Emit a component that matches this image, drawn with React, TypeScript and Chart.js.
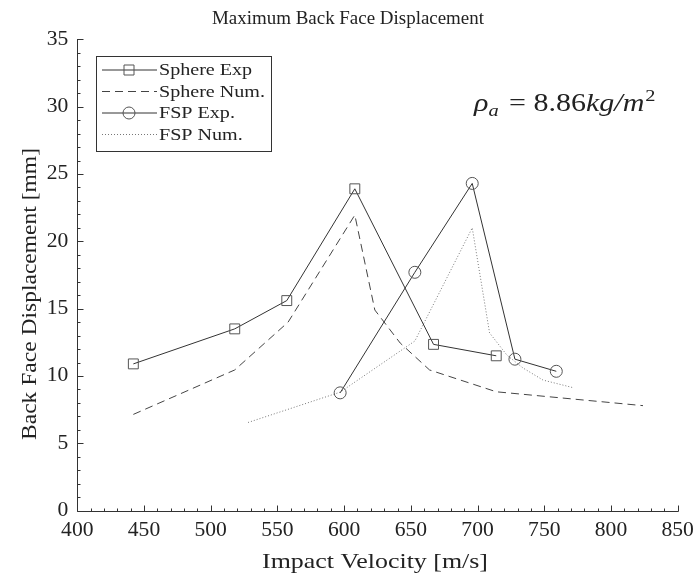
import React, { useEffect, useRef } from 'react';
import { Chart, registerables } from 'chart.js';
Chart.register(...registerables);

// ---- data ----
const sphereExpV = [442, 518, 557, 608, 667, 714];
const sphereExpD = [10.9, 13.5, 15.6, 23.9, 12.35, 11.5];
const sphereNumV = [442, 518, 558, 608, 623, 642, 664, 714, 824];
const sphereNumD = [7.15, 10.45, 14.0, 21.95, 14.9, 12.45, 10.45, 8.83, 7.8];
const fspExpV = [597, 653, 696, 728, 759];
const fspExpD = [8.75, 17.7, 24.3, 11.25, 10.35];
const fspNumV = [528, 597, 653, 696, 709, 722, 734, 749, 771];
const fspNumD = [6.55, 8.8, 12.6, 21.0, 13.2, 11.55, 10.6, 9.7, 9.15];

const seriesNames = ['Sphere Exp', 'Sphere Num.', 'FSP Exp.', 'FSP Num.'];
const xTicks = [400, 450, 500, 550, 600, 650, 700, 750, 800, 850];
const yTicks = [0, 5, 10, 15, 20, 25, 30, 35];
const xMinorStep = 10;
const yMinorStep = 1;

const titleText = 'Maximum Back Face Displacement';
const xTitle = 'Impact Velocity [m/s]';
const yTitle = 'Back Face Displacement [mm]';

const FONT = '"Liberation Serif", "Times New Roman", serif';
const LINE = '#333333';
const MARK = '#555555';

const toXY = (xs: number[], ys: number[]) => xs.map((x, i) => ({ x, y: ys[i] }));

// draw text horizontally stretched by factor sx, anchored at left (x)
function textStretch(c: CanvasRenderingContext2D, t: string, x: number, y: number, sx: number) {
  c.save();
  c.translate(x, y);
  c.scale(sx, 1);
  c.fillText(t, 0, 0);
  c.restore();
  return c.measureText(t).width * sx;
}

export default function App() {
  const ref = useRef<HTMLCanvasElement>(null);

  useEffect(() => {
    const canvas = ref.current!;
    const W = 697, H = 577;
    const plotL = 77.3, plotR = 677.7, plotT = 39.3, plotB = 510.7;

    const deco = {
      id: 'deco',
      afterDraw(chart: any) {
        const c = chart.ctx as CanvasRenderingContext2D;
        const xs = chart.scales.x;
        const ys = chart.scales.y;
        const a = chart.chartArea;
        c.save();
        c.strokeStyle = LINE;
        c.lineWidth = 1;
        c.beginPath();
        const ax = Math.round(a.left) + 0.5;
        const ay = Math.round(a.bottom) + 0.5;
        c.moveTo(ax, Math.round(a.top));
        c.lineTo(ax, ay);
        c.lineTo(Math.round(a.right) + 0.5, ay);
        const xmin = xTicks[0], xmax = xTicks[xTicks.length - 1];
        for (let v = xmin; v <= xmax + 1e-6; v += xMinorStep) {
          const px = Math.round(xs.getPixelForValue(v)) + 0.5;
          const len = xTicks.includes(v) ? 6 : 3;
          c.moveTo(px, ay);
          c.lineTo(px, ay - len);
        }
        const ymin = yTicks[0], ymax = yTicks[yTicks.length - 1];
        for (let v = ymin; v <= ymax + 1e-6; v += yMinorStep) {
          const py = Math.round(ys.getPixelForValue(v)) + 0.5;
          const len = yTicks.includes(v) ? 6 : 3;
          c.moveTo(ax, py);
          c.lineTo(ax + len, py);
        }
        c.stroke();

        // tick labels
        c.fillStyle = '#222';
        c.font = `20px ${FONT}`;
        c.textBaseline = 'top';
        c.textAlign = 'left';
        const tsx = 1.08;
        xTicks.forEach((v) => {
          const w = c.measureText(String(v)).width * tsx;
          textStretch(c, String(v), xs.getPixelForValue(v) - w / 2, a.bottom + 10, tsx);
        });
        c.textBaseline = 'middle';
        yTicks.forEach((v) => {
          const w = c.measureText(String(v)).width * tsx;
          textStretch(c, String(v), a.left - 9 - w, ys.getPixelForValue(v), tsx);
        });

        // title
        c.textBaseline = 'alphabetic';
        c.font = `18px ${FONT}`;
        {
          const target = 272;
          const sx = target / c.measureText(titleText).width;
          textStretch(c, titleText, 348 - target / 2, 24, sx);
        }

        // x title
        c.font = `22px ${FONT}`;
        {
          const target = 226;
          const sx = target / c.measureText(xTitle).width;
          textStretch(c, xTitle, 375 - target / 2, 568, sx);
        }

        // y title
        c.save();
        c.translate(36, 294);
        c.rotate(-Math.PI / 2);
        c.font = `22px ${FONT}`;
        {
          const target = 292;
          const sx = target / c.measureText(yTitle).width;
          textStretch(c, yTitle, -target / 2, 0, sx);
        }
        c.restore();

        // annotation  rho_a = 8.86 kg/m^2
        {
          let x = 474;
          const base = 111;
          const sx = 1.2;
          c.font = `italic 25px ${FONT}`;
          x += textStretch(c, 'ρ', x, base, sx);
          c.font = `italic 17px ${FONT}`;
          x += textStretch(c, 'a', x, base + 5, sx) + 3;
          c.font = `25px ${FONT}`;
          x += textStretch(c, ' = 8.86', x, base, sx);
          c.font = `italic 25px ${FONT}`;
          x += textStretch(c, 'kg/m', x, base, sx) + 1;
          c.font = `17px ${FONT}`;
          textStretch(c, '2', x, base - 10, sx);
        }

        // legend
        const lx = 96.5, ly = 56.5, lw = 175, lh = 95;
        c.fillStyle = '#fff';
        c.fillRect(lx, ly, lw, lh);
        c.strokeStyle = '#333';
        c.lineWidth = 1;
        c.setLineDash([]);
        c.strokeRect(lx, ly, lw, lh);
        const rows = [70, 91.5, 113, 134.5];
        const styles = chart.data.datasets;
        c.font = `16px ${FONT}`;
        const lsx = 106 / c.measureText(seriesNames[1]).width;
        rows.forEach((ry, i) => {
          const ds = styles[i];
          c.strokeStyle = ds.borderColor;
          c.lineWidth = 1;
          c.setLineDash(ds.borderDash || []);
          c.beginPath();
          c.moveTo(102, ry);
          c.lineTo(157, ry);
          c.stroke();
          c.setLineDash([]);
          if (ds.pointRadius > 0) {
            c.strokeStyle = MARK;
            c.beginPath();
            if (ds.pointStyle === 'rect') {
              c.rect(129 - 5, ry - 5, 10, 10);
            } else {
              c.arc(129, ry, 6, 0, Math.PI * 2);
            }
            c.stroke();
          }
          c.fillStyle = '#222';
          c.font = `16px ${FONT}`;
          c.textAlign = 'left';
          c.textBaseline = 'middle';
          textStretch(c, seriesNames[i], 159, ry + 1, lsx);
        });
        c.restore();
      },
    };

    const chart = new Chart(canvas, {
      type: 'line',
      data: {
        datasets: [
          {
            label: seriesNames[0],
            data: toXY(sphereExpV, sphereExpD),
            borderColor: LINE,
            borderWidth: 1,
            pointStyle: 'rect',
            pointRadius: 7,
            pointBorderColor: MARK,
            pointBackgroundColor: 'rgba(0,0,0,0)',
            pointBorderWidth: 1,
            tension: 0,
          },
          {
            label: seriesNames[1],
            data: toXY(sphereNumV, sphereNumD),
            borderColor: '#444444',
            borderWidth: 1,
            borderDash: [8, 5],
            pointRadius: 0,
            tension: 0,
          },
          {
            label: seriesNames[2],
            data: toXY(fspExpV, fspExpD),
            borderColor: LINE,
            borderWidth: 1,
            pointStyle: 'circle',
            pointRadius: 6,
            pointBorderColor: MARK,
            pointBackgroundColor: 'rgba(0,0,0,0)',
            pointBorderWidth: 1,
            tension: 0,
          },
          {
            label: seriesNames[3],
            data: toXY(fspNumV, fspNumD),
            borderColor: '#777777',
            borderWidth: 1,
            borderDash: [1, 2],
            pointRadius: 0,
            tension: 0,
          },
        ],
      },
      options: {
        responsive: false,
        animation: false,
        devicePixelRatio: 1,
        layout: { padding: { left: 0, top: plotT, right: W - plotR, bottom: 0 } },
        plugins: { legend: { display: false }, title: { display: false }, tooltip: { enabled: false } },
        scales: {
          x: {
            type: 'linear',
            min: xTicks[0],
            max: xTicks[xTicks.length - 1],
            grid: { display: false },
            border: { display: false },
            ticks: { display: false },
            afterFit: (s: any) => {
              s.height = H - plotB;
              s.paddingLeft = 0;
              s.paddingRight = 0;
            },
          },
          y: {
            type: 'linear',
            min: yTicks[0],
            max: yTicks[yTicks.length - 1],
            grid: { display: false },
            border: { display: false },
            ticks: { display: false },
            afterFit: (s: any) => {
              s.width = plotL;
              s.paddingTop = 0;
              s.paddingBottom = 0;
            },
          },
        },
      } as any,
      plugins: [deco],
    });
    return () => chart.destroy();
  }, []);

  return (
    <div style={{ position: 'absolute', left: 0, top: 0, width: 697, height: 577, background: '#fff' }}>
      <canvas ref={ref} width={697} height={577} style={{ width: 697, height: 577 }} />
    </div>
  );
}
